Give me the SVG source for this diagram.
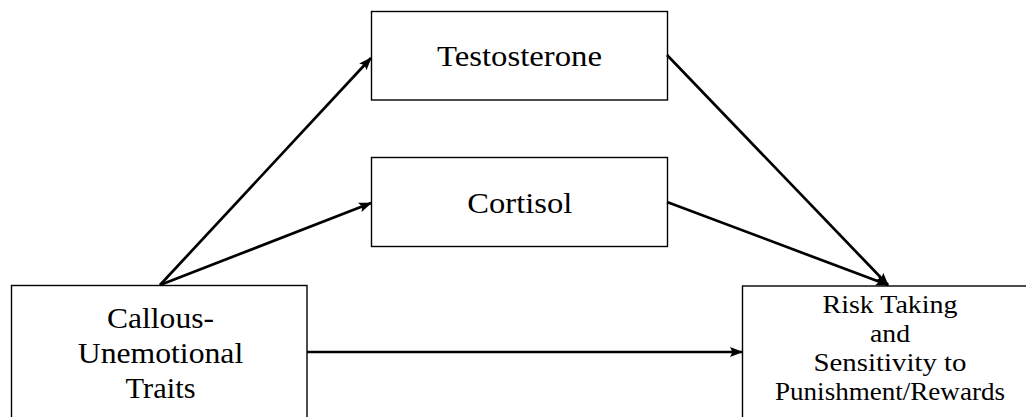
<svg xmlns="http://www.w3.org/2000/svg" width="1026" height="417" viewBox="0 0 1026 417">
<style>
.box{fill:#fff;stroke:#000;stroke-width:1.4}
.t{font-family:"Liberation Serif","Times New Roman",Times,serif;font-size:29px;fill:#000;text-anchor:middle}
.r{font-size:26px}
.c{stroke:#000;stroke-width:2.7;fill:none;marker-end:url(#ah)}
</style>
<defs>
<marker id="ah" markerUnits="userSpaceOnUse" markerWidth="13" markerHeight="11" refX="12" refY="5" orient="auto">
<path d="M0,0 L13,5 L0,10 L2.5,5 z" fill="#000"/>
</marker>
</defs>
<rect width="1026" height="417" fill="#fff"/>
<g id="node-testosterone">
<rect class="box" x="371.5" y="11.5" width="296" height="88.5"/>
<text class="t" x="519.5" y="66" textLength="165" lengthAdjust="spacingAndGlyphs">Testosterone</text>
</g>
<g id="node-cortisol">
<rect class="box" x="371.5" y="157.5" width="296" height="89"/>
<text class="t" x="519.8" y="213" textLength="105" lengthAdjust="spacingAndGlyphs">Cortisol</text>
</g>
<g id="node-cu">
<rect class="box" x="11.5" y="285.5" width="295.5" height="150"/>
<text class="t" x="160.5" y="328" textLength="107" lengthAdjust="spacingAndGlyphs">Callous-</text>
<text class="t" x="160.5" y="363" textLength="165.5" lengthAdjust="spacingAndGlyphs">Unemotional</text>
<text class="t" x="160.5" y="398" textLength="70" lengthAdjust="spacingAndGlyphs">Traits</text>
</g>
<g id="node-risk">
<rect class="box" x="742.5" y="286" width="300" height="150"/>
<text class="t r" x="890" y="313" textLength="135" lengthAdjust="spacingAndGlyphs">Risk Taking</text>
<text class="t r" x="890" y="342" textLength="40" lengthAdjust="spacingAndGlyphs">and</text>
<text class="t r" x="890" y="371" textLength="153" lengthAdjust="spacingAndGlyphs">Sensitivity to</text>
<text class="t r" x="890" y="400" textLength="230" lengthAdjust="spacingAndGlyphs">Punishment/Rewards</text>
</g>
<g id="connectors">
<line class="c" x1="160" y1="285" x2="371" y2="58"/>
<line class="c" x1="160" y1="285" x2="371" y2="203"/>
<line class="c" x1="667" y1="55" x2="888" y2="285"/>
<line class="c" x1="667" y1="202" x2="888" y2="285"/>
<line class="c" x1="307" y1="352" x2="742" y2="352"/>
</g>
</svg>
